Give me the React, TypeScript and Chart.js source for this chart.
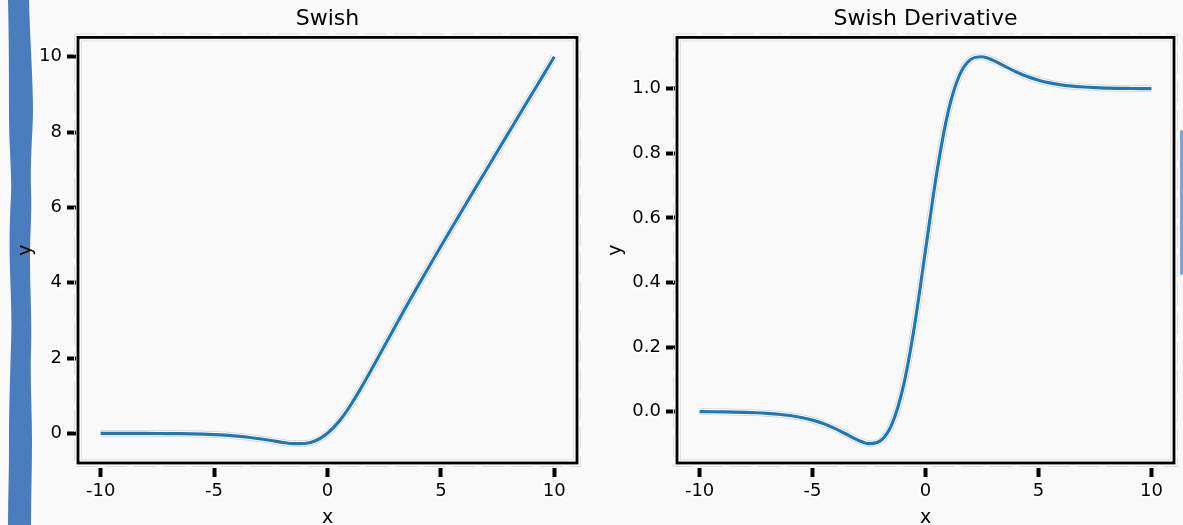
import React, { useEffect, useRef } from "react";
import { Chart, registerables } from "chart.js";

Chart.register(...registerables);

// ---- data ----
const X_VALUES = [
  -10, -9.5, -9, -8.5, -8, -7.5, -7, -6.5, -6, -5.5, -5, -4.5, -4, -3.5, -3, -2.5, -2, -1.5, -1, -0.5,
  0, 0.5, 1, 1.5, 2, 2.5, 3, 3.5, 4, 4.5, 5, 5.5, 6, 6.5, 7, 7.5, 8, 8.5, 9, 9.5, 10,
];

const SWISH_VALUES = [
  -0.0005, -0.0007, -0.0011, -0.0017, -0.0027, -0.0042, -0.0064, -0.0098, -0.0148, -0.0224,
  -0.0335, -0.0495, -0.0719, -0.1026, -0.1423, -0.1896, -0.2384, -0.2736, -0.2689, -0.1888,
  0, 0.3112, 0.7311, 1.2264, 1.7616, 2.3104, 2.8577, 3.3974, 3.9281, 4.4505,
  4.9665, 5.4776, 5.9852, 6.4902, 6.9936, 7.4959, 7.9973, 8.4985, 8.9989, 9.4993, 9.9995,
];

const SWISH_DERIVATIVE_VALUES = [
  -0.0004, -0.0006, -0.001, -0.0015, -0.0024, -0.0036, -0.0055, -0.0082, -0.0123, -0.0182,
  -0.0266, -0.0379, -0.0527, -0.0703, -0.0881, -0.0994, -0.0908, -0.0413, 0.0723, 0.26,
  0.5, 0.74, 0.9277, 1.0413, 1.0908, 1.0993, 1.0881, 1.0703, 1.0527, 1.0379,
  1.0266, 1.0182, 1.0123, 1.0082, 1.0055, 1.0036, 1.0023, 1.0015, 1.001, 1.0006, 1.0004,
];

const X_TICKS = [-10, -5, 0, 5, 10];
const SWISH_Y_TICKS = [0, 2, 4, 6, 8, 10];
const DERIVATIVE_Y_TICKS = [0.0, 0.2, 0.4, 0.6, 0.8, 1.0];

const TITLES = ["Swish", "Swish Derivative"];
const X_LABEL = "x";
const Y_LABEL = "y";

// ---- style ----
const FONT = "'DejaVu Sans', 'Noto Sans', sans-serif";
const LINE_COLOR = "#1f77b4";
const BG = "#f9f9f9";
const BAND = "#4a7dbd";
const H = 525;

const framePlugin = {
  id: "xkcdFrame",
  beforeDatasetsDraw(chart: any) {
    const { ctx, chartArea: a } = chart;
    ctx.save();
    ctx.lineWidth = 1;
    ctx.strokeStyle = "#dcdcdc";
    ctx.setLineDash([22, 7]);
    ctx.strokeRect(a.left - 3.5, a.top - 3.5, a.right - a.left + 7, a.bottom - a.top + 7);
    ctx.setLineDash([]);
    ctx.strokeStyle = "#e2e2e2";
    ctx.strokeRect(a.left + 3.5, a.top + 3.5, a.right - a.left - 7, a.bottom - a.top - 7);
    ctx.strokeStyle = "#000";
    ctx.lineWidth = 2.8;
    ctx.strokeRect(a.left, a.top, a.right - a.left, a.bottom - a.top);
    ctx.restore();
  },
};

type Opts = {
  title: string;
  values: number[];
  yTicks: number[];
  decimals: number;
  yWidth: number;
  padRight: number;
  yTitlePad: number;
};

function makeConfig(o: Opts): any {
  const pts = X_VALUES.map((x, i) => ({ x, y: o.values[i] }));
  const minY = Math.min(...o.values);
  const maxY = Math.max(...o.values);
  const my = (maxY - minY) * 0.05;
  const minX = Math.min(...X_VALUES);
  const maxX = Math.max(...X_VALUES);
  const mx = (maxX - minX) * 0.05;

  const tickFont = { family: FONT, size: 18 };
  const base = { data: pts, pointRadius: 0, fill: false, cubicInterpolationMode: "monotone" };

  return {
    type: "line",
    data: {
      datasets: [
        { ...base, borderColor: LINE_COLOR, borderWidth: 3.2 },
        { ...base, borderColor: "#ffffff", borderWidth: 5.2 },
        { ...base, borderColor: "#cfcfcf", borderWidth: 6.7 },
      ],
    },
    options: {
      responsive: false,
      animation: false,
      events: [],
      layout: { padding: { left: 0, right: o.padRight, top: 0, bottom: 0 } },
      plugins: {
        legend: { display: false },
        tooltip: { enabled: false },
        title: {
          display: true,
          text: o.title,
          fullSize: false,
          color: "#000",
          font: { family: FONT, size: 22, weight: "normal", lineHeight: 1.2 },
          padding: { top: 6, bottom: 5 },
        },
      },
      scales: {
        x: {
          type: "linear",
          min: minX - mx,
          max: maxX + mx,
          afterBuildTicks: (axis: any) => {
            axis.ticks = X_TICKS.map((v) => ({ value: v }));
          },
          afterFit: (s: any) => {
            s.height = H - 463;
          },
          border: { display: false },
          grid: {
            drawOnChartArea: false,
            drawTicks: true,
            tickLength: 14,
            tickWidth: 4,
            tickColor: "#000",
            tickBorderDash: [0, 5, 9, 100],
          },
          ticks: {
            color: "#000",
            font: tickFont,
            padding: 4,
            maxRotation: 0,
            textStrokeColor: "#ffffff",
            textStrokeWidth: 4,
            callback: (v: any) => String(v),
          },
          title: {
            display: true,
            text: X_LABEL,
            color: "#000",
            font: { family: FONT, size: 19, lineHeight: 0.75 },
            padding: { top: 0, bottom: 0 },
          },
        },
        y: {
          type: "linear",
          min: minY - my,
          max: maxY + my,
          afterBuildTicks: (axis: any) => {
            axis.ticks = o.yTicks.map((v) => ({ value: v }));
          },
          afterFit: (s: any) => {
            s.width = o.yWidth;
          },
          border: { display: false },
          grid: {
            drawOnChartArea: false,
            drawTicks: true,
            tickLength: 11,
            tickWidth: 4,
            tickColor: "#000",
            tickBorderDash: [9, 100],
          },
          ticks: {
            color: "#000",
            font: tickFont,
            padding: 5,
            textStrokeColor: "#ffffff",
            textStrokeWidth: 4,
            callback: (v: any) => Number(v).toFixed(o.decimals),
          },
          title: {
            display: true,
            text: Y_LABEL,
            color: "#000",
            font: { family: FONT, size: 19, lineHeight: 0.75 },
            padding: { top: o.yTitlePad, bottom: 0 },
          },
        },
      },
    },
    plugins: [framePlugin],
  };
}

function Panel({ left, width, opts }: { left: number; width: number; opts: Opts }) {
  const ref = useRef<HTMLCanvasElement | null>(null);
  useEffect(() => {
    if (!ref.current) return;
    const chart = new Chart(ref.current, makeConfig(opts));
    return () => chart.destroy();
  }, []);
  return (
    <div style={{ position: "absolute", left, top: 0, width, height: H }}>
      <canvas ref={ref} width={width} height={H} style={{ display: "block", width, height: H }} />
    </div>
  );
}

const BAND_PATH =
  "M8,0 C9,40 9,80 9,110 C9,150 12,170 11,195 C10,215 9,240 10,270 C11,300 12,320 11,345 " +
  "C10,380 9,410 9,440 C9,480 8,505 8,525 L31,525 C31,500 32,470 32,440 C32,410 30,380 31,350 " +
  "C32,320 30,290 30,260 C30,230 32,215 31,190 C30,160 33,130 33,110 C33,80 30,40 29,0 Z";

export default function App() {
  return (
    <div
      style={{
        position: "absolute",
        left: 0,
        top: 0,
        width: 1183,
        height: H,
        background: BG,
        overflow: "hidden",
      }}
    >
      <svg width={40} height={H} style={{ position: "absolute", left: 0, top: 0 }}>
        <path d={BAND_PATH} fill={BAND} />
      </svg>
      <div
        style={{
          position: "absolute",
          left: 1180,
          top: 130,
          width: 3,
          height: 145,
          background: "#7fa3d3",
          borderRadius: 2,
        }}
      />
      <Panel
        left={0}
        width={600}
        opts={{
          title: TITLES[0],
          values: SWISH_VALUES,
          yTicks: SWISH_Y_TICKS,
          decimals: 0,
          yWidth: 78,
          padRight: 23,
          yTitlePad: 19,
        }}
      />
      <Panel
        left={600}
        width={583}
        opts={{
          title: TITLES[1],
          values: SWISH_DERIVATIVE_VALUES,
          yTicks: DERIVATIVE_Y_TICKS,
          decimals: 1,
          yWidth: 77,
          padRight: 9,
          yTitlePad: 9,
        }}
      />
    </div>
  );
}
